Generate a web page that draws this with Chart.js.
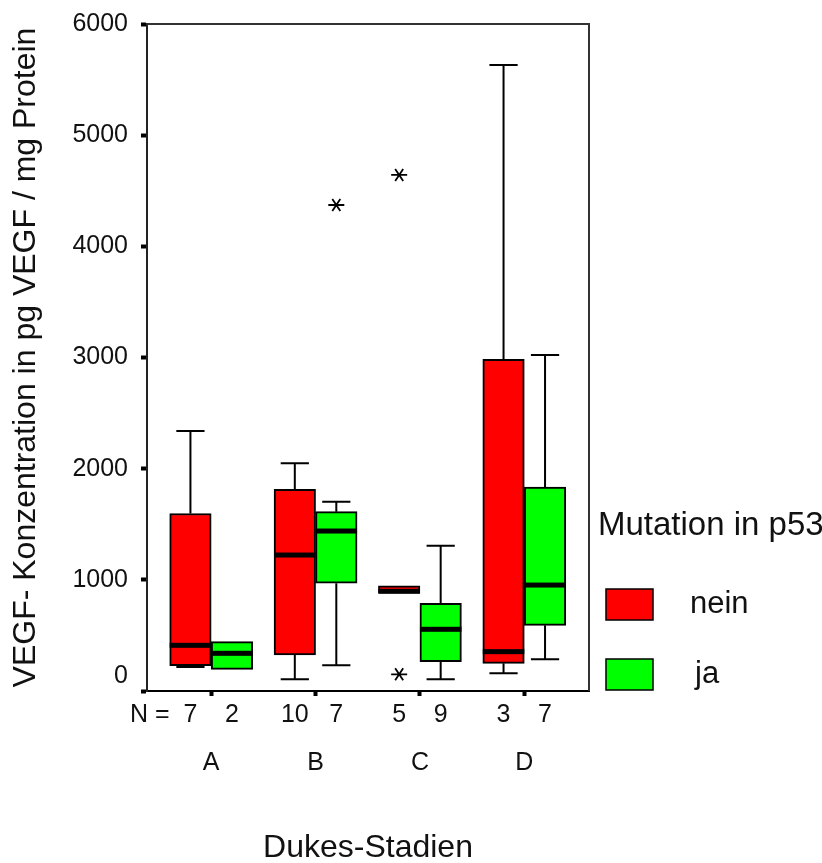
<!DOCTYPE html>
<html><head><meta charset="utf-8">
<script src="https://cdn.jsdelivr.net/npm/chart.js@4.4.1/dist/chart.umd.min.js"></script>
<style>html,body{margin:0;padding:0;background:#fff;}#wrap{width:822px;height:863px;}</style>
</head><body><div id="wrap"><canvas id="c" width="822" height="863"></canvas></div>
<script>
// ---- data ----
const categories = ['A', 'B', 'C', 'D'];
const groupLabels = ['nein', 'ja'];
const legendTitle = 'Mutation in p53';
const yTitle = 'VEGF- Konzentration in pg VEGF / mg Protein';
const xTitle = 'Dukes-Stadien';
const yTickValues = [0, 1000, 2000, 3000, 4000, 5000, 6000];

// Mutation in p53 = nein
const neinMin = [215, 105, 880, 159];
const neinQ1 = [228, 324, 880, 249];
const neinMedian = [411, 1223, 897, 354];
const neinQ3 = [1597, 1814, 945, 2984];
const neinMax = [2339, 2048, 945, 5631];
const neinN = [7, 10, 5, 3];
const neinOutliers = [[], [], [4642, 150], []];

// Mutation in p53 = ja
const jaMin = [195, 231, 105, 285];
const jaQ1 = [195, 969, 264, 591];
const jaMedian = [339, 1439, 555, 953];
const jaQ3 = [444, 1613, 789, 1835];
const jaMax = [444, 1703, 1307, 3022];
const jaN = [2, 7, 9, 7];
const jaOutliers = [[], [4372], [], []];

// ---- styles ----
const FONT = '"Liberation Sans", Arial, sans-serif';
const colors = ['#ff0000', '#00ff00'];

function makeDataset(label, color, q1, q3, min, med, max, n, out) {
  return {
    label: label,
    data: categories.map((c, i) => ({ x: i, y: [q1[i], q3[i]] })),
    backgroundColor: color,
    borderColor: '#000',
    borderWidth: 2,
    borderSkipped: false,
    stats: { min: min, median: med, max: max, n: n, outliers: out }
  };
}

function drawStar(ctx, x, y) {
  ctx.save();
  ctx.strokeStyle = '#000';
  ctx.lineWidth = 1.8;
  ctx.beginPath();
  ctx.moveTo(x - 8, y); ctx.lineTo(x + 8, y);
  ctx.moveTo(x - 4, y - 6); ctx.lineTo(x + 4, y + 6);
  ctx.moveTo(x + 4, y - 6); ctx.lineTo(x - 4, y + 6);
  ctx.stroke();
  ctx.restore();
}

const boxPlugin = {
  id: 'boxExtras',
  afterDatasetsDraw(chart) {
    const ctx = chart.ctx;
    const ys = chart.scales.y;
    const area = chart.chartArea;
    ctx.save();
    // frame top/right
    ctx.strokeStyle = '#333';
    ctx.lineWidth = 2;
    ctx.beginPath();
    ctx.moveTo(area.left, area.top); ctx.lineTo(area.right, area.top); ctx.lineTo(area.right, area.bottom);
    ctx.stroke();

    chart.data.datasets.forEach((ds, di) => {
      const meta = chart.getDatasetMeta(di);
      const st = ds.stats;
      meta.data.forEach((bar, i) => {
        const p = bar.getProps(['x', 'width'], true);
        const x = p.x, w = p.width;
        const q1 = ds.data[i].y[0], q3 = ds.data[i].y[1];
        const capHalf = w * 0.34;
        ctx.strokeStyle = '#000';
        ctx.lineWidth = 2;
        if (st.max[i] > q3) {
          const a = ys.getPixelForValue(q3), b = ys.getPixelForValue(st.max[i]);
          ctx.beginPath();
          ctx.moveTo(x, a); ctx.lineTo(x, b);
          ctx.moveTo(x - capHalf, b); ctx.lineTo(x + capHalf, b);
          ctx.stroke();
        }
        if (st.min[i] < q1) {
          const a = ys.getPixelForValue(q1), b = ys.getPixelForValue(st.min[i]);
          ctx.beginPath();
          ctx.moveTo(x, a); ctx.lineTo(x, b);
          ctx.moveTo(x - capHalf, b); ctx.lineTo(x + capHalf, b);
          ctx.stroke();
        }
        const ym = ys.getPixelForValue(st.median[i]);
        ctx.fillStyle = '#000';
        ctx.fillRect(x - w / 2, ym - 2.5, w, 5);
        st.outliers[i].forEach(v => drawStar(ctx, x, ys.getPixelForValue(v)));
        // N labels
        ctx.fillStyle = '#111';
        ctx.font = '25px ' + FONT;
        ctx.textAlign = 'center';
        ctx.textBaseline = 'middle';
        const txt = String(st.n[i]);
        ctx.fillText(txt, x, area.bottom + 24);
        if (di === 0 && i === 0) {
          ctx.textAlign = 'right';
          ctx.fillText('N =', x - ctx.measureText(txt).width / 2 - 14, area.bottom + 24);
        }
      });
    });
    ctx.restore();
  },
  afterDraw(chart) {
    const ctx = chart.ctx;
    const area = chart.chartArea;
    const x0 = area.right + 9;
    ctx.save();
    ctx.fillStyle = '#111';
    ctx.textAlign = 'left';
    ctx.textBaseline = 'alphabetic';
    ctx.font = '33px ' + FONT;
    ctx.fillText(legendTitle, x0, area.bottom - 156);
    const tops = [area.bottom - 102, area.bottom - 32];
    chart.data.datasets.forEach((ds, di) => {
      const t = tops[di];
      ctx.fillStyle = ds.backgroundColor;
      ctx.fillRect(x0 + 8, t, 47, 31);
      ctx.strokeStyle = '#000';
      ctx.lineWidth = 1.5;
      ctx.strokeRect(x0 + 8, t, 47, 31);
      ctx.fillStyle = '#111';
      ctx.font = '31px ' + FONT;
      ctx.fillText(ds.label, x0 + 92 + (di === 1 ? 5 : 0), t + 24);
    });
    ctx.restore();
  }
};

new Chart(document.getElementById('c'), {
  type: 'bar',
  data: {
    datasets: [
      makeDataset(groupLabels[0], colors[0], neinQ1, neinQ3, neinMin, neinMedian, neinMax, neinN, neinOutliers),
      makeDataset(groupLabels[1], colors[1], jaQ1, jaQ3, jaMin, jaMedian, jaMax, jaN, jaOutliers)
    ]
  },
  options: {
    responsive: false,
    animation: false,
    devicePixelRatio: 1,
    barThickness: 41.5,
    layout: { padding: { left: 0, right: 233, top: 24, bottom: 0 } },
    plugins: { legend: { display: false }, tooltip: { enabled: false } },
    scales: {
      x: {
        type: 'linear',
        min: -0.615,
        max: 3.62,
        offset: false,
        grid: { display: true, offset: false, drawOnChartArea: false, drawTicks: true, tickLength: 5, tickWidth: 4, tickColor: '#000' },
        border: { display: true, color: '#000', width: 2 },
        ticks: {
          stepSize: 1,
          includeBounds: false,
          autoSkip: false,
          maxRotation: 0,
          padding: 52,
          color: '#111',
          font: { family: FONT, size: 25 },
          callback: (v) => (categories[v] !== undefined ? categories[v] : '')
        },
        title: { display: true, text: xTitle, color: '#111', font: { family: FONT, size: 32, lineHeight: 0.9 }, padding: { top: 0, bottom: 0 } },
        afterFit: (s) => { s.height = 172; s.paddingLeft = 0; s.paddingRight = 0; }
      },
      y: {
        type: 'linear',
        min: 0,
        max: 6000,
        grid: { display: true, drawOnChartArea: false, drawTicks: true, tickLength: 6, tickWidth: 4, tickColor: '#000' },
        border: { display: true, color: '#222', width: 2 },
        afterBuildTicks: (s) => { s.ticks = yTickValues.map(v => ({ value: v })); },
        ticks: {
          padding: 13,
          color: '#111',
          font: { family: FONT, size: 25 },
          callback: (v) => (v === 0 ? ['0', ''] : String(v))
        },
        title: { display: true, text: yTitle, color: '#111', font: { family: FONT, size: 32 }, padding: { top: 7, bottom: 0 } },
        afterFit: (s) => { s.width = 147; s.paddingTop = 0; s.paddingBottom = 0; }
      }
    }
  },
  plugins: [boxPlugin]
});
</script>
</body></html>
